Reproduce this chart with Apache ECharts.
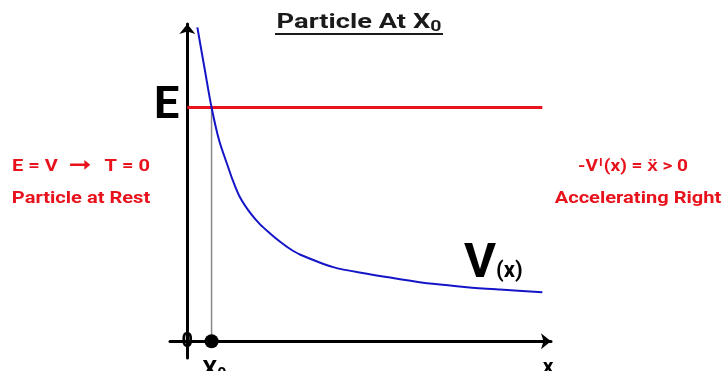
<!DOCTYPE html>
<html>
<head>
<meta charset="utf-8">
<script src="https://cdn.jsdelivr.net/npm/echarts@6/dist/echarts.min.js"></script>
<style>
  html, body { margin: 0; padding: 0; background: #ffffff; }
  #chart { width: 725px; height: 371px; }
</style>
</head>
<body>
<div id="chart"></div>
<script>
// Potential energy curve V(x), sampled along x
const potentialX = [0.29, 0.51, 0.70, 0.92, 1.18, 1.32, 1.52, 1.81, 2.10, 2.39, 2.68, 2.96, 3.25, 4.21, 5.19, 6.14, 7.09, 8.07, 9.02, 10.25];
const potentialY = [9.4, 8.1, 7.0, 6.01, 5.21, 4.8, 4.31, 3.85, 3.5, 3.23, 2.98, 2.77, 2.6, 2.22, 2.02, 1.86, 1.72, 1.62, 1.55, 1.47];

// Total energy level and the turning point where the particle starts
const energyLevel = 7;
const startX = 0.7;
const energyLineX = [0, 10.25];

// Axis extents
const xRange = [-0.5, 10.5];
const yRange = [-0.5, 9.5];

const FONT = 'Roboto, "Liberation Sans", sans-serif';
const RED = '#e8121c';
const BLUE = '#1515c8';
const WIDEN = 1.18; // horizontal stretch applied to the annotation text

const chart = echarts.init(document.getElementById('chart'), null, { renderer: 'canvas' });

const axisCommon = {
  type: 'value',
  axisLine: {
    onZero: true,
    symbol: ['none', 'arrow'],
    symbolSize: [12, 10],
    lineStyle: { color: '#000000', width: 3 }
  },
  axisTick: { show: false },
  axisLabel: { show: false },
  splitLine: { show: false }
};

chart.setOption({
  animation: false,
  backgroundColor: '#ffffff',
  grid: { left: 170, right: 174, top: 24, bottom: 13 },
  xAxis: Object.assign({}, axisCommon, { min: xRange[0], max: xRange[1] }),
  yAxis: Object.assign({}, axisCommon, { min: yRange[0], max: yRange[1] }),
  series: [
    {
      name: 'E',
      type: 'line',
      data: energyLineX.map(x => [x, energyLevel]),
      showSymbol: false,
      lineStyle: { color: RED, width: 3 },
      z: 3
    },
    {
      name: 'x0 guide',
      type: 'line',
      data: [[startX, 0], [startX, energyLevel]],
      showSymbol: false,
      lineStyle: { color: '#888888', width: 1.5 },
      z: 2
    },
    {
      name: 'V(x)',
      type: 'line',
      data: potentialX.map((x, i) => [x, potentialY[i]]),
      showSymbol: false,
      smooth: 0.3,
      lineStyle: { color: BLUE, width: 2 },
      z: 4
    },
    {
      name: 'particle',
      type: 'scatter',
      data: [[startX, 0]],
      symbolSize: 14,
      itemStyle: { color: '#000000', opacity: 1 },
      z: 5
    }
  ]
});

const toPx = (x, y) => chart.convertToPixel({ gridIndex: 0 }, [x, y]);
const origin = toPx(0, 0);
const ePt = toPx(0, energyLevel);
const dotPt = toPx(startX, 0);
const xEnd = toPx(xRange[1], 0);

function redText(text, x, y, align) {
  return {
    type: 'text', x: x, y: y, scaleX: WIDEN,
    style: {
      text: text, textAlign: align, textVerticalAlign: 'middle',
      font: 'bold 17px ' + FONT, fill: RED
    }
  };
}

chart.setOption({
  graphic: [
    // Title with underline
    {
      type: 'text',
      x: 359, y: 23, scaleX: 1.3,
      style: {
        text: '{a|Particle At X}{s|0}',
        textAlign: 'center',
        textVerticalAlign: 'middle',
        fill: '#1a1a1a',
        rich: {
          a: { fontFamily: FONT, fontWeight: 'bold', fontSize: 21, fill: '#1a1a1a' },
          s: { fontFamily: FONT, fontWeight: 'bold', fontSize: 15, fill: '#1a1a1a', padding: [8, 0, 0, 0] }
        }
      }
    },
    {
      type: 'line',
      shape: { x1: 275, y1: 34, x2: 443, y2: 34 },
      style: { stroke: '#1a1a1a', lineWidth: 2 }
    },
    // Energy label
    {
      type: 'text',
      x: ePt[0] - 8, y: ePt[1] - 1,
      style: {
        text: 'E', textAlign: 'right', textVerticalAlign: 'middle',
        font: 'bold 45px ' + FONT, fill: '#000000'
      }
    },
    // Origin label
    {
      type: 'text',
      x: origin[0], y: origin[1] + 1,
      z: -1,
      style: {
        text: '0', textAlign: 'center', textVerticalAlign: 'middle',
        font: 'bold 20px ' + FONT, fill: '#000000'
      }
    },
    // Starting position label
    {
      type: 'text',
      x: dotPt[0] - 9, y: dotPt[1] + 18,
      style: {
        text: '{a|X}{s|0}',
        textVerticalAlign: 'top',
        rich: {
          a: { fontFamily: FONT, fontWeight: 'bold', fontSize: 23, fill: '#000000' },
          s: { fontFamily: FONT, fontWeight: 'bold', fontSize: 16, fill: '#000000', padding: [8, 0, 0, 0] }
        }
      }
    },
    // x axis name
    {
      type: 'text',
      x: xEnd[0] - 3, y: xEnd[1] + 26,
      style: {
        text: 'x', textAlign: 'center', textVerticalAlign: 'middle',
        font: 'bold 21px ' + FONT, fill: '#000000'
      }
    },
    // Curve label
    {
      type: 'text',
      x: 464, y: 289,
      style: {
        text: '{v|V}{s|(x)}',
        textVerticalAlign: 'bottom',
        rich: {
          v: { fontFamily: FONT, fontWeight: 'bold', fontSize: 49, fill: '#000000' },
          s: { fontFamily: FONT, fontWeight: 'bold', fontSize: 22, fill: '#000000', padding: [14, 0, 0, 0] }
        }
      }
    },
    // Left annotation
    redText('E = V', 12, 167, 'left'),
    {
      type: 'text', x: 80, y: 166, scaleX: 1.2,
      style: {
        text: '\u279E', textAlign: 'center', textVerticalAlign: 'middle',
        font: 'bold 23px "DejaVu Sans", sans-serif', fill: RED
      }
    },
    redText('T = 0', 150, 167, 'right'),
    redText('Particle at Rest', 81, 199, 'center'),
    // Right annotation
    {
      type: 'text',
      x: 633, y: 167, scaleX: 1.12,
      style: {
        text: '{a|-V}{p|I}{a|(x) = \u1E8D > 0}',
        textAlign: 'center', textVerticalAlign: 'middle',
        rich: {
          a: { fontFamily: FONT, fontWeight: 'bold', fontSize: 17, fill: RED },
          p: { fontFamily: FONT, fontWeight: 'bold', fontSize: 11, fill: RED, padding: [0, 1, 8, 1] }
        }
      }
    },
    redText('Accelerating Right', 638, 199, 'center')
  ]
});
</script>
</body>
</html>
